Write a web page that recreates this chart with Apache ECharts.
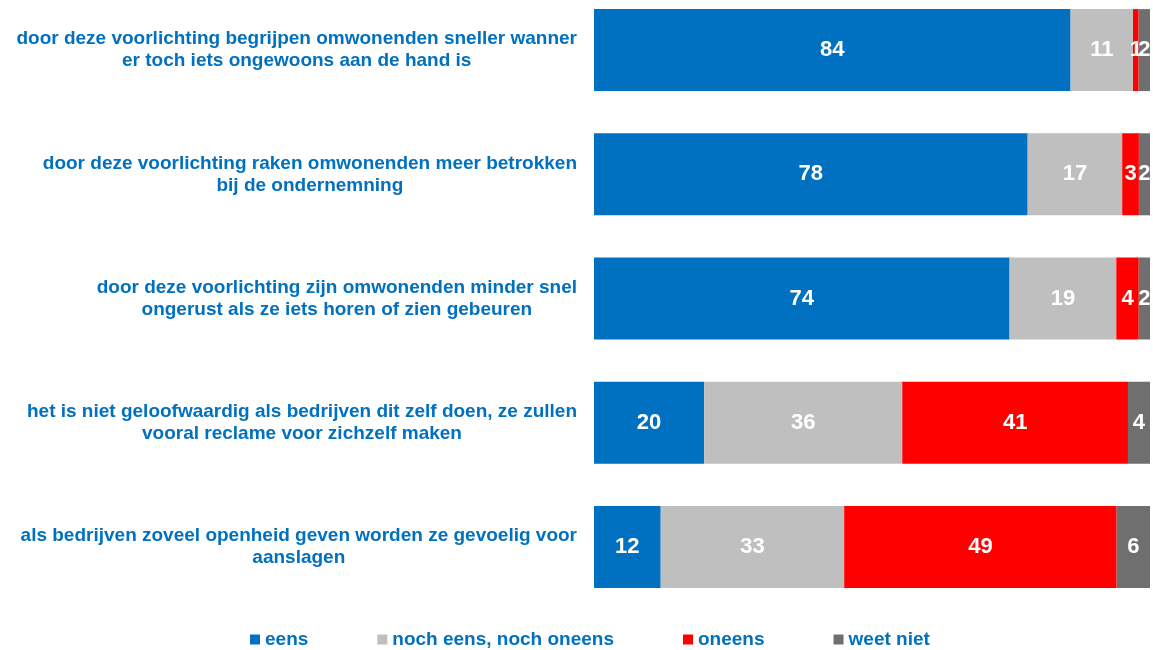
<!DOCTYPE html>
<html>
<head>
<meta charset="utf-8">
<script src="https://cdn.jsdelivr.net/npm/echarts@6/dist/echarts.min.js"></script>
<style>
  html, body { margin: 0; padding: 0; background: #fff; }
  #main { width: 1153px; height: 650px; }
</style>
</head>
<body>
<div id="main"></div>
<script>
// statements, top to bottom
var categories = [
  'door deze voorlichting begrijpen omwonenden sneller wanner\ner toch iets ongewoons aan de hand is',
  'door deze voorlichting raken omwonenden meer betrokken\nbij de ondernemning',
  'door deze voorlichting zijn omwonenden minder snel\nongerust als ze iets horen of zien gebeuren',
  'het is niet geloofwaardig als bedrijven dit zelf doen, ze zullen\nvooral reclame voor zichzelf maken',
  'als bedrijven zoveel openheid geven worden ze gevoelig voor\naanslagen'
];
var seriesNames = ['eens', 'noch eens, noch oneens', 'oneens', 'weet niet'];
var eens = [84, 78, 74, 20, 12];
var neutraal = [11, 17, 19, 36, 33];
var oneens = [1, 3, 4, 41, 49];
var weetNiet = [2, 2, 2, 4, 6];
var colors = ['#0070C0', '#BFBFBF', '#FF0000', '#6F6F6F'];

var raw = [eens, neutraal, oneens, weetNiet];
// 100% stacked: each row is scaled to its own total
var rowSums = categories.map(function (c, i) {
  return raw.reduce(function (s, arr) { return s + arr[i]; }, 0);
});

var font = 'Liberation Sans, Arial, sans-serif';
var chart = echarts.init(document.getElementById('main'));

var series = raw.map(function (arr, k) {
  return {
    name: seriesNames[k],
    type: 'bar',
    stack: 'total',
    barWidth: 82,
    itemStyle: { color: colors[k] },
    label: {
      show: true,
      position: 'inside',
      color: '#fff',
      fontFamily: font,
      fontWeight: 'bold',
      fontSize: 22,
      formatter: function (p) { return arr[p.dataIndex]; }
    },
    data: arr.map(function (v, i) { return v / rowSums[i] * 100; })
  };
});

chart.setOption({
  animation: false,
  grid: { left: 594, right: 3, top: -12, bottom: 41, outerBoundsMode: 'none' },
  legend: {
    top: 625,
    left: 245,
    itemWidth: 10,
    itemHeight: 10,
    itemGap: 69,
    icon: 'rect',
    textStyle: {
      color: '#0070C0',
      fontFamily: font,
      fontWeight: 'bold',
      fontSize: 19
    },
    data: seriesNames
  },
  xAxis: {
    type: 'value',
    min: 0,
    max: 100,
    show: false
  },
  yAxis: {
    type: 'category',
    inverse: true,
    data: categories,
    axisLine: { show: false },
    axisTick: { show: false },
    axisLabel: {
      margin: 17,
      align: 'right',
      lineHeight: 22,
      formatter: function (v) {
        return v.split('\n').map(function (l) { return '{c|' + l + '}'; }).join('\n');
      },
      rich: {
        c: {
          align: 'center',
          color: '#0070C0',
          fontFamily: font,
          fontWeight: 'bold',
          fontSize: 19,
          lineHeight: 22
        }
      }
    }
  },
  series: series
});
</script>
</body>
</html>
